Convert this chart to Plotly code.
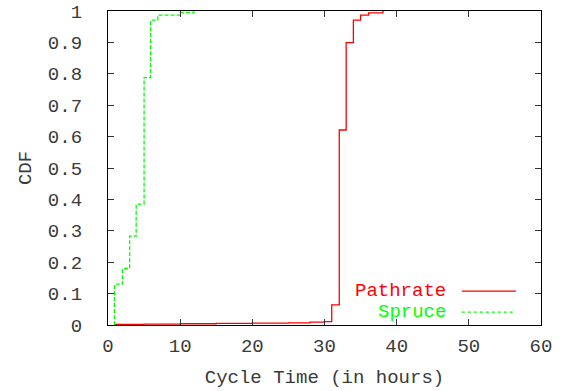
import plotly.graph_objects as go

# Cycle-time CDFs (hours) for the two measurement tools
pathrate_hours = [1.0, 5, 10, 15, 20, 25, 28, 30, 31.0, 32.05, 33.0, 34.0, 35.0, 36.1, 38.1]
pathrate_cdf = [0.002, 0.003, 0.004, 0.005, 0.006, 0.007, 0.009, 0.011, 0.064, 0.621, 0.899, 0.971, 0.987, 0.994, 1.0]

spruce_hours = [0.9, 2.0, 3.0, 3.9, 5.0, 5.9, 6.9, 10.0, 11.9]
spruce_cdf = [0.13, 0.18, 0.283, 0.385, 0.788, 0.971, 0.987, 0.995, 1.0]

x_ticks = [0, 10, 20, 30, 40, 50, 60]
y_ticks = [0, 0.1, 0.2, 0.3, 0.4, 0.5, 0.6, 0.7, 0.8, 0.9, 1]
y_tick_text = ["0", "0.1", "0.2", "0.3", "0.4", "0.5", "0.6", "0.7", "0.8", "0.9", "1"]

RED = "#ff0000"
GREEN = "#00ff00"
FONT = "Liberation Mono"
TEXT = "#3a3a3a"
SIZE = 19


def from_zero(xs, ys):
    # start each step curve on the x axis at its first jump
    return [xs[0]] + list(xs), [0] + list(ys)


fig = go.Figure()

px, py = from_zero(pathrate_hours, pathrate_cdf)
fig.add_trace(go.Scatter(x=px, y=py, mode="lines", line_shape="hv",
                         line=dict(color=RED, width=1.3), name="Pathrate",
                         showlegend=False))

sx, sy = from_zero(spruce_hours, spruce_cdf)
fig.add_trace(go.Scatter(x=sx, y=sy, mode="lines", line_shape="hv",
                         line=dict(color=GREEN, width=1.3, dash="4px,2px"),
                         name="Spruce", showlegend=False))

axis_common = dict(
    showgrid=False, zeroline=False, showline=True, linecolor="black",
    linewidth=1.3, mirror="allticks", ticks="inside", ticklen=6,
    tickcolor="#333333", tickwidth=1, automargin=False,
    tickfont=dict(family=FONT, size=SIZE, color=TEXT),
)

fig.update_xaxes(range=[0, 60], tickvals=x_ticks, ticklabelstandoff=3,
                 title=dict(text="Cycle Time (in hours)", standoff=12,
                            font=dict(family=FONT, size=SIZE, color=TEXT)),
                 **axis_common)
fig.update_yaxes(range=[0, 1], tickvals=y_ticks, ticktext=y_tick_text,
                 ticklabelstandoff=21,
                 title=dict(text="CDF", standoff=11,
                            font=dict(family=FONT, size=SIZE, color=TEXT)),
                 **axis_common)

# key in the lower-right corner: label on the left, line sample on the right
legend_rows = [("Pathrate", RED, "solid", 0.108), ("Spruce", GREEN, "dot", 0.041)]
for label, color, dash, yk in legend_rows:
    fig.add_annotation(x=0.784, y=yk, xref="paper", yref="paper", text=label,
                       showarrow=False, xanchor="right", yanchor="middle",
                       borderpad=0,
                       font=dict(family=FONT, size=SIZE, color=color))
    fig.add_shape(type="line", xref="paper", yref="paper",
                  x0=0.817, x1=0.942, y0=yk, y1=yk,
                  line=dict(color=color, width=1.3, dash=dash))

fig.update_layout(
    width=569, height=391,
    margin=dict(l=108, r=28, t=11, b=66),
    paper_bgcolor="white", plot_bgcolor="white",
    showlegend=False,
)

fig.write_html("out.html")
